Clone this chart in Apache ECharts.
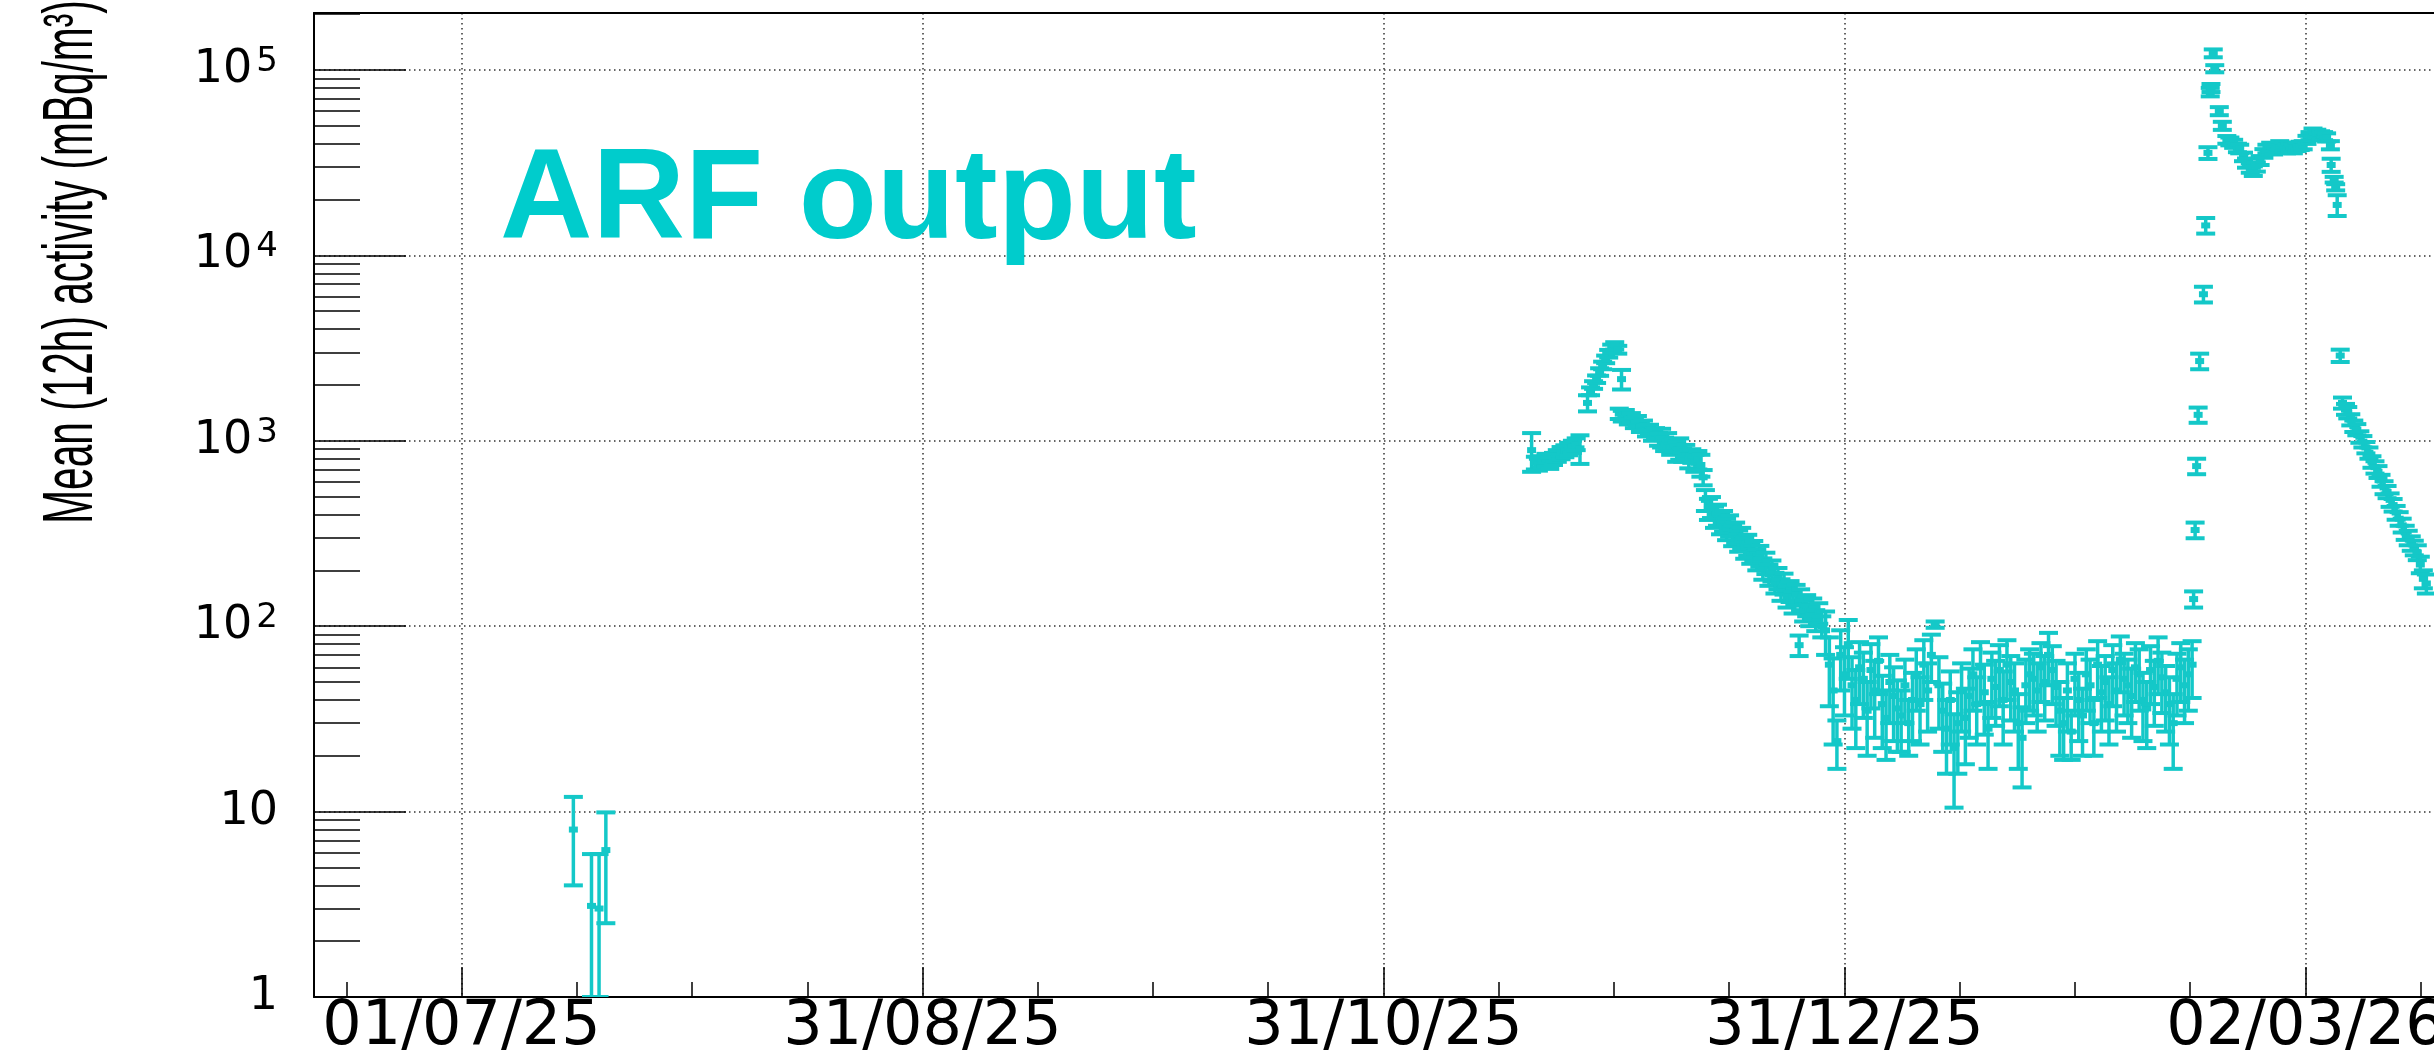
<!DOCTYPE html>
<html>
<head>
<meta charset="utf-8">
<title>ARF output</title>
<script src="https://cdn.jsdelivr.net/npm/echarts@6.0.0/dist/echarts.min.js"></script>
<style>
  html, body { margin: 0; padding: 0; background: #fff; }
  #chart { width: 2434px; height: 1053px; }
</style>
</head>
<body>
<div id="chart"></div>
<script>
// x values are days since 01/07/2025, y values are mean (12h) activity in mBq/m3, errors are +/-

// July
const julyDays = [14.8, 17.2, 18.2, 19.1];
const julyActivity = [8.0, 3.1, 3.0, 6.2];
const julyErrors = [4.0, 2.8, 2.9, 3.7];

// first plateau, end of November
const novDays = [141.6, 142.1, 142.5, 143.0, 143.5, 144.0, 144.5, 145.0, 145.5, 146.0, 146.5, 147.0, 147.5, 148.0];
const novActivity = [890, 760, 745, 770, 790, 760, 800, 830, 860, 880, 905, 930, 960, 910];
const novErrors = [210, 60, 55, 55, 60, 55, 60, 60, 65, 65, 70, 70, 70, 160];

// rise at the start of December
const riseDays = [149.0, 149.4, 149.8, 150.2, 150.6, 151.0, 151.4, 151.8, 152.2, 152.6, 153.0, 153.5];
const riseActivity = [1600, 1850, 2000, 2150, 2350, 2550, 2750, 2950, 3150, 3250, 3100, 2150];
const riseErrors = [160, 90, 95, 100, 110, 120, 130, 140, 150, 150, 150, 260];

// slow decrease in December
const decDays = [
  153.2, 153.6, 154.0, 154.4, 154.8, 155.2, 155.6, 156.0, 156.4, 156.8,
  157.2, 157.6, 158.0, 158.4, 158.8, 159.2, 159.6, 160.0, 160.4, 160.8,
  161.2, 161.6, 162.0, 162.4, 162.8, 163.2, 163.6, 164.0, 164.3,
  164.6, 165.0, 165.4, 165.8, 166.2, 166.6, 167.0, 167.4, 167.8, 168.2,
  168.6, 169.0, 169.4, 169.8, 170.2, 170.6, 171.0, 171.4, 171.8, 172.2,
  172.6, 173.0, 173.4, 173.8, 174.2, 174.6, 175.0, 175.4, 175.8, 176.2,
  176.6, 177.0, 177.2, 177.6, 178.0, 178.4, 178.8, 179.2, 179.6, 180.0
];
const decActivity = [
  1400, 1360, 1380, 1310, 1330, 1250, 1280, 1190, 1210, 1130,
  1150, 1070, 1100, 1020, 1040, 960, 990, 920, 950, 880,
  910, 840, 870, 800, 830, 760, 790, 740, 635,
  480, 430, 440, 390, 400, 360, 370, 335, 350, 310,
  320, 290, 300, 265, 275, 250, 255, 230, 240, 205,
  220, 190, 200, 172, 182, 158, 170, 145, 155, 135,
  148, 79, 140, 122, 130, 115, 125, 108, 118, 100
];
const decErrors = [
  90, 90, 85, 85, 80, 80, 80, 75, 75, 75,
  70, 70, 70, 80, 120, 80, 110, 80, 70, 110,
  120, 70, 80, 90, 70, 80, 90, 100, 60,
  62, 56, 57, 51, 52, 47, 48, 44, 46, 40,
  42, 38, 39, 34, 36, 33, 33, 30, 31, 27,
  29, 25, 26, 22, 24, 21, 22, 19, 20, 18,
  19, 10, 18, 16, 17, 15, 16, 14, 15, 13
];

// noisy low level, January to mid February
const janDays = [
  180.5, 181.0, 181.5, 182.0, 182.5, 183.0, 183.5, 184.0, 184.5, 185.0,
  185.5, 186.0, 186.5, 187.0, 187.5, 188.0, 188.5, 189.0, 189.5, 190.0,
  190.5, 191.0, 191.5, 192.0, 192.5, 193.0, 193.5, 194.0, 194.5, 195.0,
  195.5, 196.0, 196.5, 197.0, 197.5, 198.0, 198.5, 199.0, 199.5, 200.0,
  200.5, 201.0, 201.5, 202.0, 202.5, 203.0, 203.5, 204.0, 204.5, 205.0,
  205.5, 206.0, 206.5, 207.0, 207.5, 208.0, 208.5, 209.0, 209.5, 210.0,
  210.5, 211.0, 211.5, 212.0, 212.5, 213.0, 213.5, 214.0, 214.5, 215.0,
  215.5, 216.0, 216.5, 217.0, 217.5, 218.0, 218.5, 219.0, 219.5, 220.0,
  220.5, 221.0, 221.5, 222.0, 222.5, 223.0, 223.5, 224.0, 224.5, 225.0,
  225.5, 226.0, 226.5, 227.0, 227.5, 228.0, 228.5, 229.0
];
const janActivity = [
  95, 62, 45, 24, 70, 55, 80, 48, 40, 60,
  52, 35, 58, 45, 65, 38, 32, 50, 42, 36,
  33, 48, 30, 40, 55, 38, 62, 45, 70, 102,
  48, 35, 28, 40, 22, 30, 45, 32, 42, 55,
  38, 60, 44, 28, 52, 47, 58, 40, 62, 50,
  45, 30, 25, 48, 55, 52, 45, 60, 50, 70,
  58, 47, 35, 30, 45, 27, 52, 40, 33, 55,
  48, 30, 62, 44, 50, 38, 58, 45, 66, 52,
  48, 42, 60, 55, 40, 36, 58, 47, 65, 53,
  44, 38, 30, 52, 60, 48, 55, 62
];
const janErrors = [
  25, 25, 22, 7, 25, 22, 28, 20, 18, 22,
  20, 15, 22, 20, 22, 16, 13, 20, 18, 15,
  12, 18, 10, 16, 20, 15, 22, 18, 20, 4,
  20, 14, 12, 17, 11.5, 14, 18, 14, 17, 20,
  15, 22, 18, 11, 20, 18, 21, 17, 22, 19,
  18, 13, 11.5, 18, 20, 19, 18, 21, 19, 22,
  20, 18, 15, 11, 18, 8, 19, 16, 13, 20,
  18, 10, 21, 17, 19, 15, 21, 18, 22, 19,
  18, 17, 21, 20, 16, 14, 20, 18, 22, 19,
  17, 15, 13, 19, 21, 18, 20, 21
];

// spike and high plateau, February
const febDays = [
  229.2, 229.4, 229.6, 229.8, 230.0, 230.5, 230.8, 231.1, 231.4, 231.5,
  231.8, 232.0, 232.6, 233.0, 233.6, 234.0, 234.5, 235.0, 235.3, 235.8,
  236.2, 236.7, 237.1, 237.5, 238.0, 238.5, 238.9, 239.4, 239.8, 240.3,
  240.6, 241.1, 241.5, 242.0, 242.4, 242.9, 243.3, 243.7, 244.2, 244.6,
  245.0, 245.5, 246.0, 246.4, 246.8, 247.3, 247.4, 247.8, 248.0, 248.2,
  248.6
];
const febActivity = [
  140, 330, 730, 1380, 2690, 6170, 14500, 35700, 76000, 80000,
  123000, 101600, 60000, 50000, 42000, 41200, 40000, 38000, 37500, 34000,
  31500, 29600, 28500, 30000, 32500, 35500, 37500, 38500, 37000, 38000,
  39300, 38500, 37500, 38000, 37500, 38500, 39000, 39300, 42000, 44000,
  46000, 45300, 44500, 44000, 43300, 39300, 30700, 25600, 23300, 18700,
  2880
];
const febErrors = [
  14, 32, 70, 130, 260, 600, 1400, 2600, 4000, 4000,
  6000, 4500, 3000, 2500, 2000, 2000, 2000, 2000, 2000, 1800,
  1800, 1700, 1700, 1700, 1800, 1900, 2000, 2000, 2000, 2000,
  2000, 2000, 2000, 2000, 2000, 2000, 2000, 2000, 2100, 2200,
  2300, 2300, 2200, 2200, 2200, 2000, 2500, 900, 900, 2400,
  220
];

// decrease in March
const marDays = [
  248.9, 249.3, 249.6, 250.0, 250.4, 250.8, 251.2, 251.6, 252.0, 252.4,
  252.8, 253.2, 253.6, 254.0, 254.4, 254.8, 255.2, 255.6, 256.0, 256.4,
  256.8, 257.2, 257.6, 258.0, 258.4, 258.8, 259.2, 259.6, 260.0
];
const marActivity = [
  1600, 1480, 1420, 1300, 1200, 1150, 1050, 990, 920, 860,
  770, 720, 680, 610, 560, 530, 480, 450, 410, 380,
  350, 320, 300, 280, 265, 250, 215, 180, 170
];
const marErrors = [
  110, 100, 100, 90, 85, 80, 75, 70, 65, 60,
  55, 55, 50, 45, 45, 40, 40, 35, 35, 32,
  30, 28, 27, 25, 24, 23, 22, 20, 20
];

// axis ticks
const majorTickDays = [0, 61, 122, 183, 244];
const tickLabels = ['01/07/25', '31/08/25', '31/10/25', '31/12/25', '02/03/26'];
const minorTickDays = [-15.25, 15.25, 30.5, 45.75, 76.25, 91.5, 106.75, 137.25, 152.5, 167.75, 198.25, 213.5, 228.75, 259.25];
const yLabelValues = [1, 10, 100, 1000, 10000, 100000];

const xMin = -19.52;
const xMax = 261.01;
const yMax = 202800;
const pointColor = '#14c8c8';
const capHalf = 9.5;

const days = [].concat(julyDays, novDays, riseDays, decDays, janDays, febDays, marDays);
const activity = [].concat(julyActivity, novActivity, riseActivity, decActivity, janActivity, febActivity, marActivity);
const errors = [].concat(julyErrors, novErrors, riseErrors, decErrors, janErrors, febErrors, marErrors);

// [day, value, low, high]; low end stops at the bottom of the axis
const errorBarData = days.map(function (d, i) {
  return [d, activity[i], Math.max(activity[i] - errors[i], 1), activity[i] + errors[i]];
});

function renderErrorBar(params, api) {
  const day = api.value(0);
  const mid = api.coord([day, api.value(1)]);
  const low = api.coord([day, api.value(2)]);
  const high = api.coord([day, api.value(3)]);
  const barStyle = { stroke: pointColor, lineWidth: 3.5 };
  const capStyle = { stroke: pointColor, lineWidth: 4 };
  return {
    type: 'group',
    children: [
      { type: 'line', shape: { x1: low[0], y1: low[1], x2: high[0], y2: high[1] }, style: barStyle },
      { type: 'line', shape: { x1: low[0] - capHalf, y1: low[1], x2: low[0] + capHalf, y2: low[1] }, style: capStyle },
      { type: 'line', shape: { x1: high[0] - capHalf, y1: high[1], x2: high[0] + capHalf, y2: high[1] }, style: capStyle },
      { type: 'rect', shape: { x: mid[0] - 4.5, y: mid[1] - 3, width: 9, height: 6 }, style: { fill: pointColor } }
    ]
  };
}

const gridLine = { color: '#333', width: 1.5, type: [1.5, 3.5] };
const tickLine = { color: '#000', width: 1.5 };
const frameLine = { color: '#000', width: 2 };

const chart = echarts.init(document.getElementById('chart'));
chart.setOption({
  animation: false,
  backgroundColor: '#fff',
  title: {
    text: 'ARF output',
    left: 495,
    top: 134,
    textStyle: { fontFamily: 'Liberation Sans', fontWeight: 'bold', fontSize: 128, color: '#00cccc' }
  },
  graphic: [{
    type: 'text',
    x: 73,
    y: 262,
    rotation: Math.PI / 2,
    scaleX: 0.58,
    style: {
      text: 'Mean (12h) activity (mBq/m³)',
      fontFamily: 'Liberation Sans',
      fontSize: 70,
      fill: '#000',
      textAlign: 'center',
      textVerticalAlign: 'middle'
    }
  }],
  grid: { left: 314, right: 0, top: 13, bottom: 56, outerBoundsMode: 'none' },
  xAxis: [{
    type: 'value', min: xMin, max: xMax, position: 'bottom',
    axisLine: { show: true, onZero: false, lineStyle: frameLine },
    axisTick: { show: true, inside: true, length: 30, customValues: majorTickDays, lineStyle: tickLine },
    axisLabel: {
      show: true, customValues: majorTickDays, margin: 0,
      fontFamily: 'DejaVu Sans', fontSize: 62, color: '#000',
      formatter: function (v) {
        const i = majorTickDays.findIndex(function (t) { return Math.abs(t - v) < 0.01; });
        return i >= 0 ? tickLabels[i] : '';
      }
    },
    splitLine: { show: true, lineStyle: gridLine }
  }, {
    type: 'value', min: xMin, max: xMax, position: 'bottom',
    axisLine: { show: false, onZero: false },
    axisTick: { show: true, inside: true, length: 15, customValues: minorTickDays, lineStyle: tickLine },
    axisLabel: { show: false },
    splitLine: { show: false }
  }, {
    // upper frame line
    type: 'value', min: xMin, max: xMax, position: 'top',
    axisLine: { show: true, onZero: false, lineStyle: frameLine },
    axisTick: { show: false },
    axisLabel: { show: false },
    splitLine: { show: false }
  }],
  yAxis: {
    type: 'log', logBase: 10, min: 1, max: yMax,
    axisLine: { show: true, onZero: false, lineStyle: frameLine },
    axisTick: { show: true, inside: true, length: 92, customValues: yLabelValues, lineStyle: tickLine },
    minorTick: { show: true, splitNumber: 9, length: 46, lineStyle: tickLine },
    axisLabel: {
      customValues: yLabelValues, margin: 36,
      fontFamily: 'DejaVu Sans', fontSize: 46, color: '#000',
      formatter: function (v) {
        const p = Math.round(Math.log10(v));
        if (p === 0) return '1';
        if (p === 1) return '10';
        return '10{sup|' + p + '}';
      },
      rich: {
        sup: { fontFamily: 'DejaVu Sans', fontSize: 34, color: '#000', padding: [0, 0, 16, 4] }
      }
    },
    splitLine: { show: true, lineStyle: gridLine }
  },
  series: [{
    type: 'custom',
    name: 'ARF output',
    xAxisIndex: 0,
    yAxisIndex: 0,
    clip: true,
    renderItem: renderErrorBar,
    encode: { x: 0, y: 1 },
    data: errorBarData
  }]
});
</script>
</body>
</html>
